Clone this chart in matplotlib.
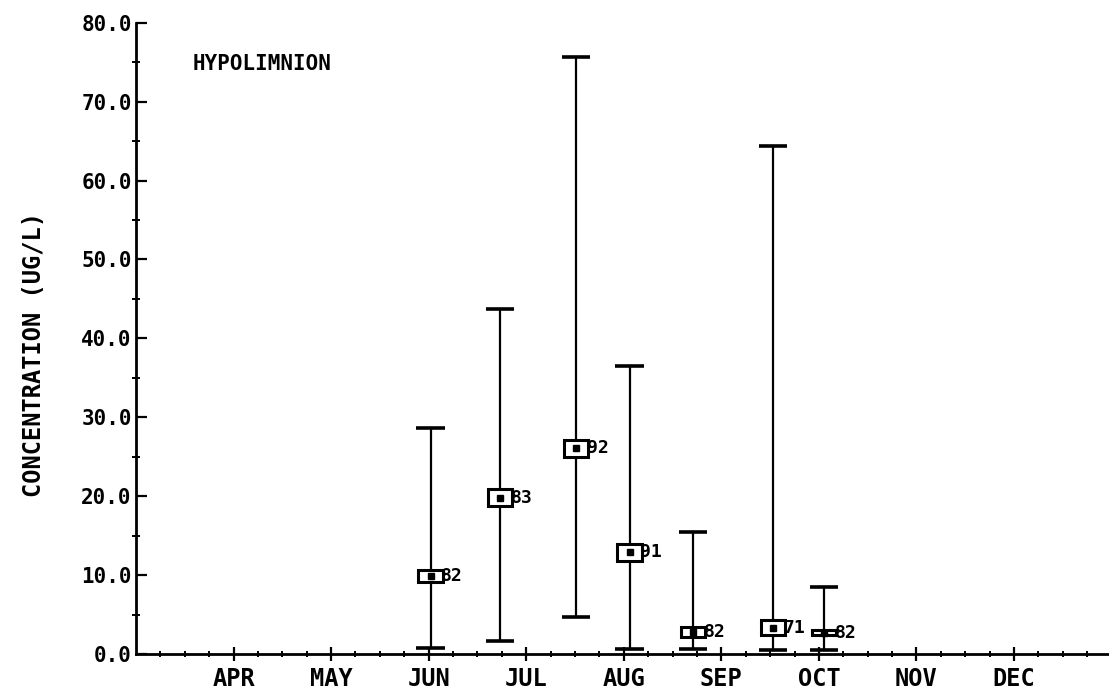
import numpy as np
import matplotlib
matplotlib.use("Agg")
import matplotlib.pyplot as plt
from matplotlib.patches import Rectangle

# sampling dates in month units (4 = APR)
sample_x = [6.02, 6.73, 7.51, 8.06, 8.71, 9.53, 10.05]
means = [9.9, 19.8, 26.1, 12.9, 2.8, 3.3, 2.7]
lows = [0.8, 1.7, 4.7, 0.6, 0.6, 0.5, 0.5]
highs = [28.6, 43.7, 75.7, 36.5, 15.5, 64.4, 8.5]
std_err = [0.75, 1.08, 1.08, 1.08, 0.63, 0.95, 0.3]
counts = ["82", "83", "92", "91", "82", "71", "82"]

month_pos = [4, 5, 6, 7, 8, 9, 10, 11, 12]
month_labels = ["APR", "MAY", "JUN", "JUL", "AUG", "SEP", "OCT", "NOV", "DEC"]
y_ticks = [0, 10, 20, 30, 40, 50, 60, 70, 80]

font = "DejaVu Sans Mono"

fig = plt.figure(figsize=(11.09, 6.94), dpi=100)
ax = fig.add_axes([0.1226, 0.0576, 0.878, 0.9097])

box_w = 0.25
cap_w = 0.29
for x, m, lo, hi, se, n in zip(sample_x, means, lows, highs, std_err, counts):
    ax.plot([x, x], [lo, hi], color="black", lw=1.6, zorder=2)
    ax.plot([x - cap_w / 2, x + cap_w / 2], [hi, hi], color="black", lw=2.6, solid_capstyle="butt", zorder=2)
    ax.plot([x - cap_w / 2, x + cap_w / 2], [lo, lo], color="black", lw=2.6, solid_capstyle="butt", zorder=2)
    ax.add_patch(Rectangle((x - box_w / 2, m - se), box_w, 2 * se,
                           facecolor="white", edgecolor="black", lw=2.2, zorder=3))
    ax.plot([x], [m], marker="s", ms=4, color="black", zorder=4)
    ax.text(x + box_w / 2 - 0.015, m, n, fontsize=13, fontweight="bold", family=font,
            ha="left", va="center", zorder=5)

ax.text(3.58, 74.8, "HYPOLIMNION", fontsize=15, fontweight="bold", family=font,
        ha="left", va="center")

ax.set_xlim(3, 12.98)
ax.set_ylim(0, 80)

ax.set_xticks(month_pos)
ax.set_xticklabels(month_labels, fontsize=17, fontweight="bold", family=font)
ax.set_xticks(np.arange(3.25, 13, 0.25), minor=True)
ax.set_yticks(y_ticks)
ax.set_yticklabels(["%.1f" % v for v in y_ticks], fontsize=15, fontweight="bold", family=font)
ax.set_yticks(np.arange(5, 80, 10), minor=True)

ax.tick_params(axis="x", which="major", direction="inout", length=10, width=1.6, pad=4)
ax.tick_params(axis="x", which="minor", direction="inout", length=5, width=1.4)
ax.tick_params(axis="y", which="major", direction="in", length=8, width=1.6, pad=3)
ax.tick_params(axis="y", which="minor", direction="inout", length=6, width=1.4)

ax.set_ylabel("CONCENTRATION (UG/L)", fontsize=17, fontweight="bold", family=font)
ax.yaxis.set_label_coords(-0.092, 0.475)

for side in ["top", "right"]:
    ax.spines[side].set_visible(False)
for side in ["left", "bottom"]:
    ax.spines[side].set_linewidth(2)

fig.savefig("out.png", dpi=100)
